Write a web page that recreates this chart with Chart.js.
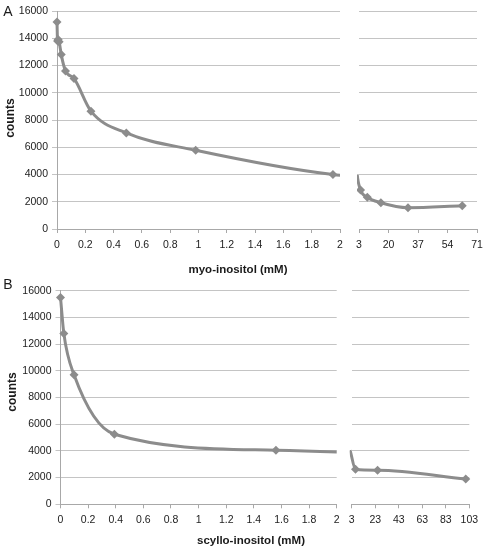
<!DOCTYPE html>
<html><head><meta charset="utf-8">
<script src="https://cdn.jsdelivr.net/npm/chart.js@4.4.1/dist/chart.umd.min.js"></script>
<style>
html,body{margin:0;padding:0;background:#fff}
#wrap{position:relative;width:484px;height:552px;overflow:hidden;font-family:"Liberation Sans",Arial,sans-serif;color:#1a1a1a}
canvas{position:absolute;left:0;top:0}
.t{position:absolute;white-space:nowrap;transform:translate(-50%,-50%)}
.b{font-weight:bold}
.rot{transform:translate(-50%,-50%) rotate(-90deg)}
</style></head>
<body><div id="wrap">
<canvas id="aL" width="484" height="552"></canvas>
<canvas id="aR" width="484" height="552"></canvas>
<canvas id="bL" width="484" height="552"></canvas>
<canvas id="bR" width="484" height="552"></canvas>
<div class="t" style="left:8px;top:11px;font-size:14px">A</div>
<div class="t" style="left:8px;top:284px;font-size:14px">B</div>
<div class="t b rot" style="left:10px;top:118px;font-size:12px">counts</div>
<div class="t b rot" style="left:12px;top:392px;font-size:12px">counts</div>
<div class="t b" style="left:238px;top:269px;font-size:11.5px">myo-inositol (mM)</div>
<div class="t b" style="left:251px;top:540px;font-size:11.5px">scyllo-inositol (mM)</div>
</div>
<script>
// ---- data ----
const myoConc   = [0, 0.004, 0.008, 0.015, 0.03, 0.06, 0.12, 0.24, 0.49, 0.98, 1.95, 3.9, 7.8, 15.6, 31.25, 62.5];
const myoCounts = [15200, 13800, 13900, 13750, 12800, 11600, 11050, 8650, 7050, 5780, 4000, 2860, 2330, 1930, 1565, 1710];
const scylloConc   = [0, 0.024, 0.098, 0.39, 1.56, 6.25, 25, 100];
const scylloCounts = [15500, 12800, 9700, 5250, 4050, 2620, 2550, 1900];
const yTicks = [0, 2000, 4000, 6000, 8000, 10000, 12000, 14000, 16000];
const xTicksLow = [0, 0.2, 0.4, 0.6, 0.8, 1, 1.2, 1.4, 1.6, 1.8, 2];
const xTicksMyoHigh = [3, 20, 37, 54, 71];
const xTicksScylloHigh = [3, 23, 43, 63, 83, 103];

const FONT = "'Liberation Sans', Arial, sans-serif";
const LINE = '#8c8c8c', GRID = '#c4c4c4', AXIS = '#a8a8a8', TXT = '#222';

function pts(xs, ys){ return xs.map((x,i)=>({x:x, y:ys[i]})); }

function make(id, data, area, xr, xt, showY){
  const [L,T,R,B] = area;
  const xH = 30;
  new Chart(document.getElementById(id), {
    type:'line',
    data:{datasets:[{
      data:data,
      borderColor:LINE, backgroundColor:LINE, borderWidth:3,
      cubicInterpolationMode:'monotone',
      pointStyle:'rectRot',
      pointRadius: c => (c.raw && c.raw.x >= xr[0]-1e-9 && c.raw.x <= xr[1]+1e-9) ? 4.5 : 0,
      pointBorderWidth:0, pointBackgroundColor:LINE,
      clip: showY ? {left:6, top:6, right:0, bottom:6} : {left:2, top:6, right:6, bottom:6}
    }]},
    options:{
      responsive:false, animation:false, devicePixelRatio:1,
      plugins:{legend:{display:false}, tooltip:{enabled:false}},
      layout:{padding:{left: showY ? 0 : L, top:T, right:484-R, bottom:552-B-xH}},
      scales:{
        x:{type:'linear', position:'bottom', min:xr[0], max:xr[1],
          afterBuildTicks: s => { s.ticks = xt.map(v=>({value:v})); },
          afterFit: s => { s.height = xH; s.paddingLeft = 0; s.paddingRight = 0; },
          grid:{drawOnChartArea:false, drawTicks:true, tickLength:4, color:AXIS, lineWidth:1},
          border:{display:true, color:AXIS, width:1},
          ticks:{autoSkip:false, maxRotation:0, padding:6, color:TXT,
            font:{family:FONT, size:10.5}, callback: v => String(+(+v).toFixed(4))}
        },
        y:{type:'linear', position:'left', min:0, max:16000,
          afterBuildTicks: s => { s.ticks = yTicks.map(v=>({value:v})); },
          afterFit: s => { s.width = showY ? L : 0; s.paddingTop = 0; s.paddingBottom = 0; },
          grid:{drawOnChartArea:true, drawTicks:showY, tickLength:5, color:GRID, lineWidth:1},
          border:{display:showY, color:AXIS, width:1},
          ticks:{display:showY, padding:4, color:TXT,
            font:{family:FONT, size:10.5}, callback: v => String(v)}
        }
      }
    }
  });
}

make('aL', pts(myoConc, myoCounts), [57, 11, 340, 229], [0, 2], xTicksLow, true);
make('aR', pts(myoConc, myoCounts), [359, 11, 477, 229], [3, 71], xTicksMyoHigh, false);
make('bL', pts(scylloConc, scylloCounts), [60.5, 290.7, 336.7, 504.3], [0, 2], xTicksLow, true);
make('bR', pts(scylloConc, scylloCounts), [351.7, 290.7, 469.3, 504.3], [3, 103], xTicksScylloHigh, false);
</script>
</body></html>
